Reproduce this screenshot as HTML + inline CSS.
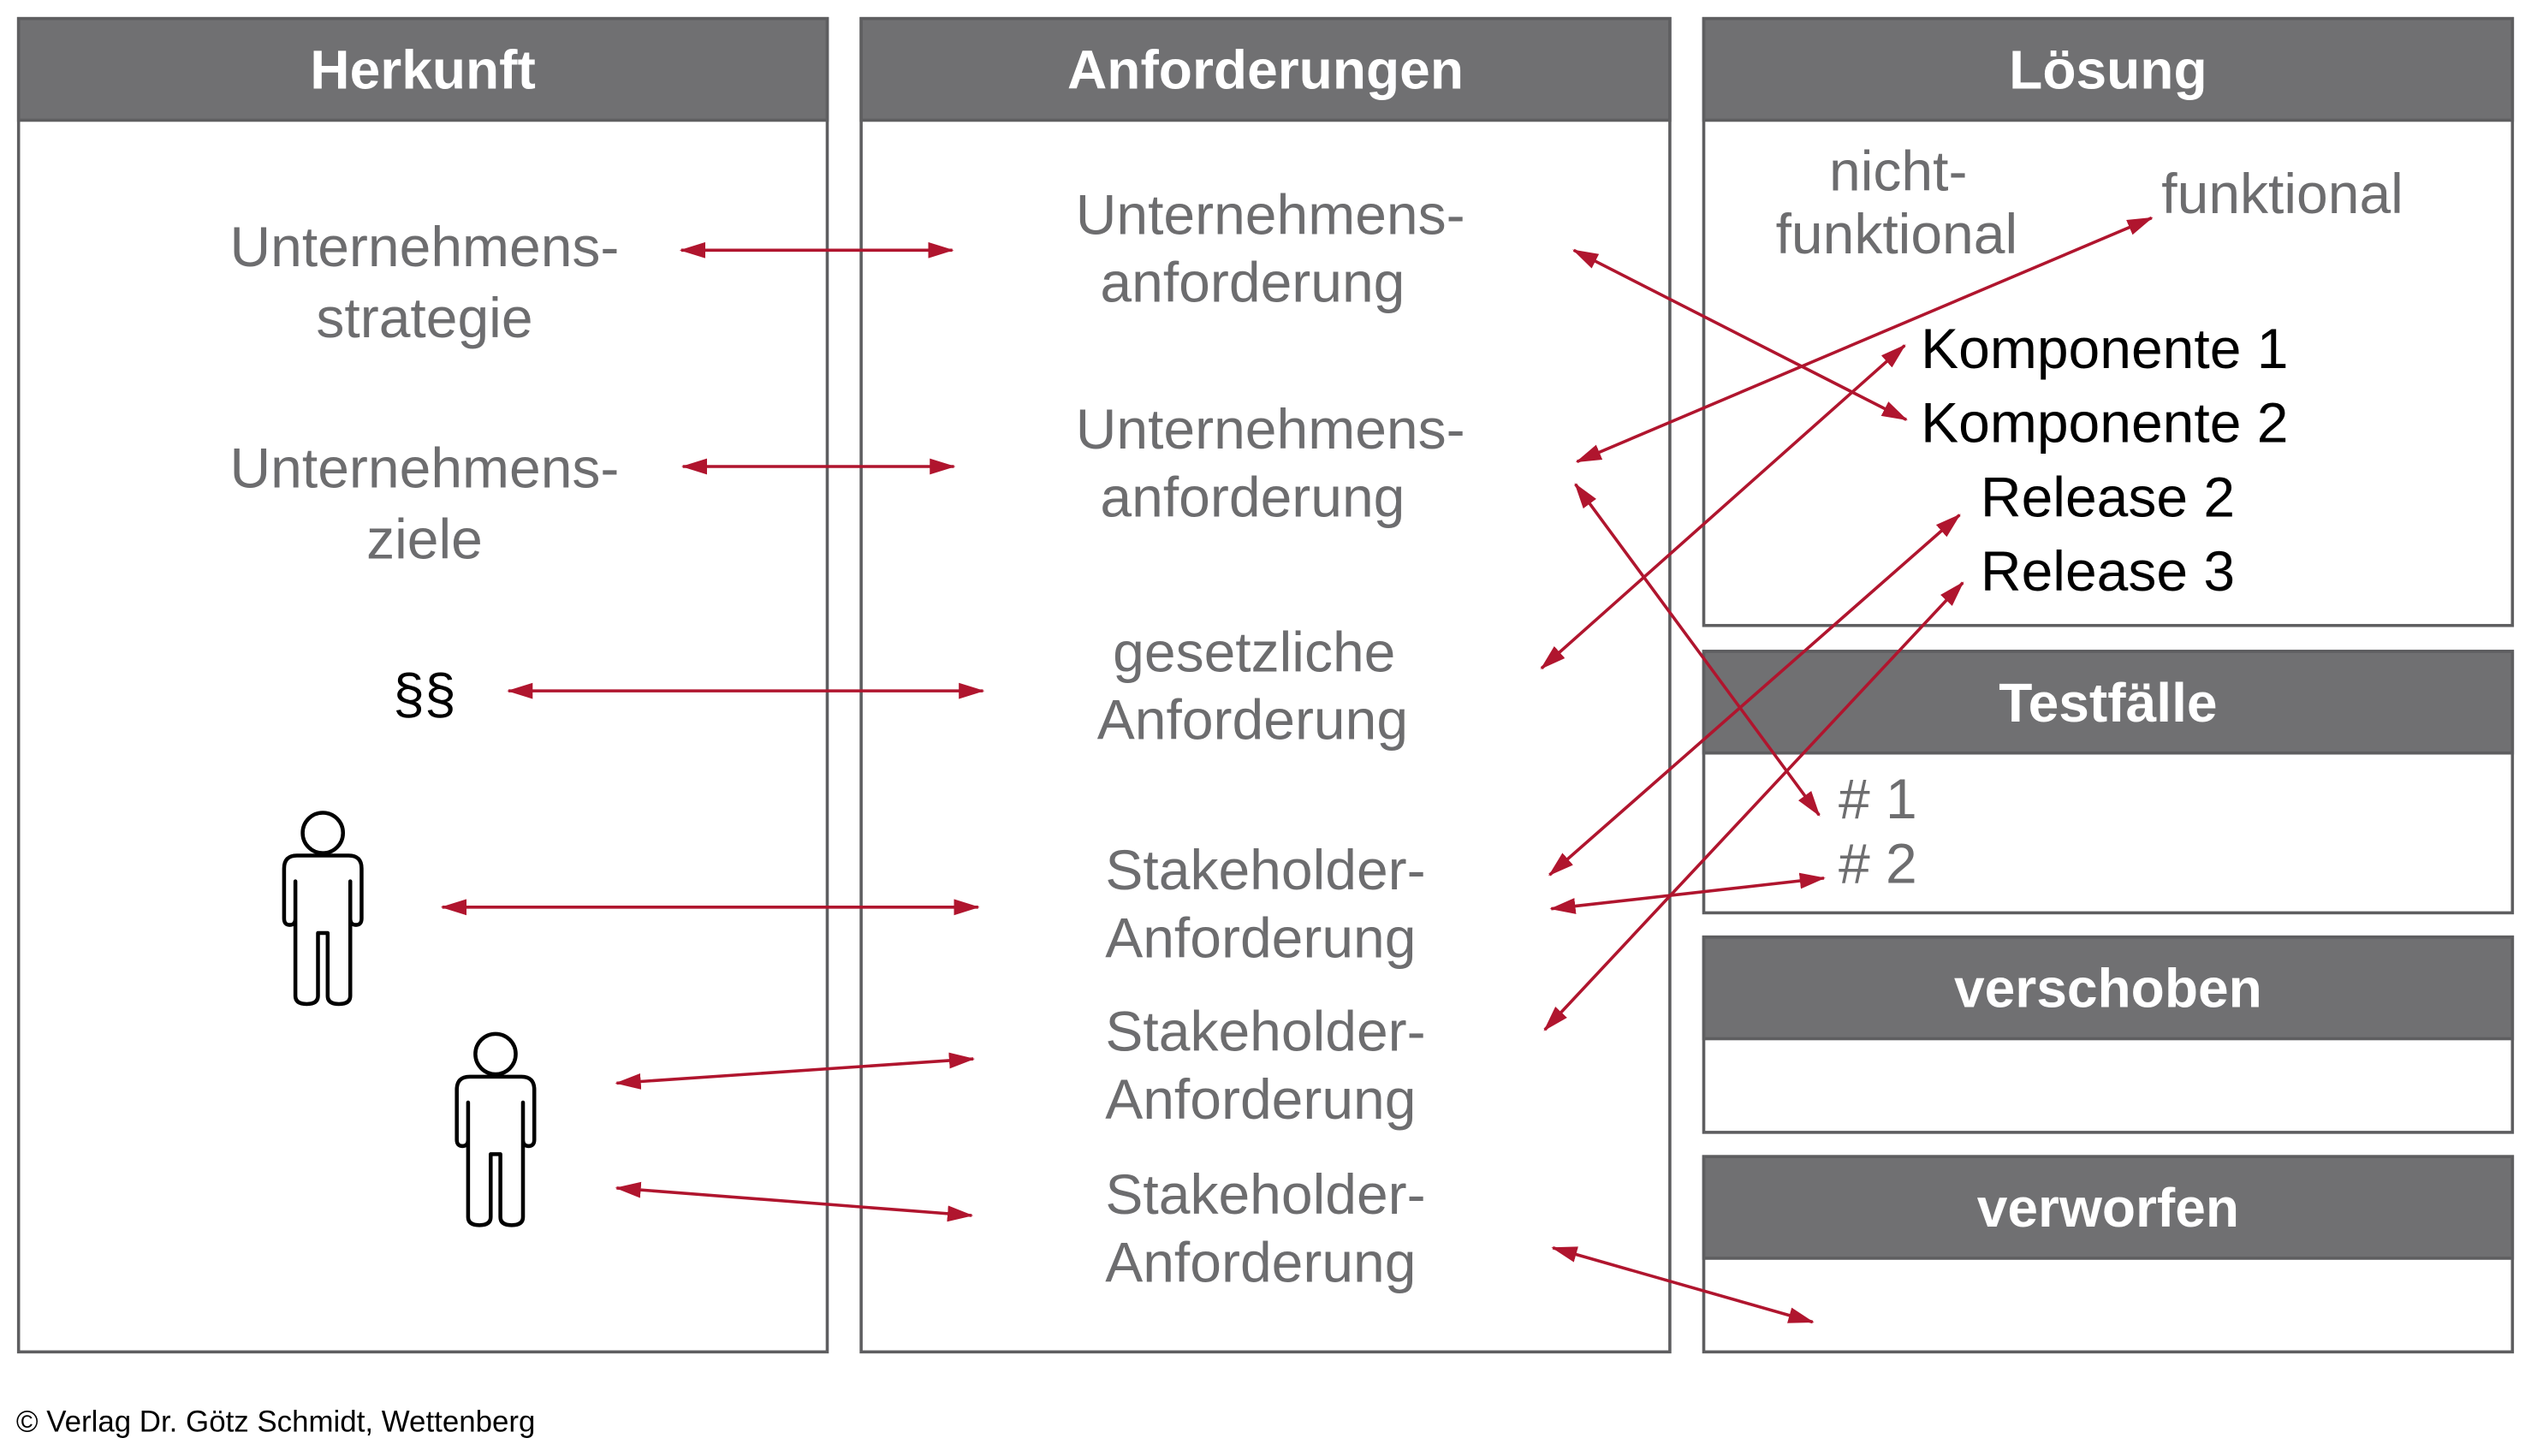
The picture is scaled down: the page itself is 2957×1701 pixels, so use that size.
<!DOCTYPE html>
<html><head><meta charset="utf-8"><style>
html,body{margin:0;padding:0;background:#fff;}
svg{display:block;}
text{font-family:"Liberation Sans",Arial,sans-serif;}
</style></head><body>
<svg width="2957" height="1701" viewBox="0 0 1568 902" preserveAspectRatio="none" xmlns="http://www.w3.org/2000/svg">
<defs>
<marker id="a" viewBox="0 0 16 10" refX="15" refY="5" markerWidth="16" markerHeight="10" markerUnits="userSpaceOnUse" orient="auto-start-reverse">
<path d="M0,0 L16,5 L0,10 Z" fill="#b0152e"/>
</marker>
</defs>
<g stroke="#5e5e60" stroke-width="1.9">
<rect x="11.5" y="11.5" width="501" height="826" fill="#fff"/>
<rect x="11.5" y="11.5" width="501" height="63" fill="#707072"/>
<rect x="533.5" y="11.5" width="501" height="826" fill="#fff"/>
<rect x="533.5" y="11.5" width="501" height="63" fill="#707072"/>
<rect x="1055.5" y="11.5" width="501" height="376" fill="#fff"/>
<rect x="1055.5" y="11.5" width="501" height="63" fill="#707072"/>
<rect x="1055.5" y="403.5" width="501" height="162" fill="#fff"/>
<rect x="1055.5" y="403.5" width="501" height="63" fill="#707072"/>
<rect x="1055.5" y="580.5" width="501" height="121" fill="#fff"/>
<rect x="1055.5" y="580.5" width="501" height="63" fill="#707072"/>
<rect x="1055.5" y="716.5" width="501" height="121" fill="#fff"/>
<rect x="1055.5" y="716.5" width="501" height="63" fill="#707072"/>
</g>
<g fill="#fff" font-weight="bold" font-size="34" text-anchor="middle">
<text x="262" y="55">Herkunft</text>
<text x="784" y="55">Anforderungen</text>
<text x="1306" y="55">Lösung</text>
<text x="1306" y="447">Testfälle</text>
<text x="1306" y="624">verschoben</text>
<text x="1306" y="760">verworfen</text>
</g>
<g fill="#6d6d6f" font-size="35" text-anchor="middle">
<text x="263" y="165">Unternehmens-</text>
<text x="263" y="209">strategie</text>
<text x="263" y="302">Unternehmens-</text>
<text x="263" y="346">ziele</text>
<text x="787" y="145">Unternehmens-</text>
<text x="776" y="187">anforderung</text>
<text x="787" y="278">Unternehmens-</text>
<text x="776" y="320">anforderung</text>
<text x="777" y="416">gesetzliche</text>
<text x="776" y="458">Anforderung</text>
<text x="784" y="551">Stakeholder-</text>
<text x="781" y="593">Anforderung</text>
<text x="784" y="651">Stakeholder-</text>
<text x="781" y="693">Anforderung</text>
<text x="784" y="752">Stakeholder-</text>
<text x="781" y="794">Anforderung</text>
<text x="1176" y="118">nicht-</text>
<text x="1175" y="157">funktional</text>
<text x="1414" y="132">funktional</text>
</g>
<g fill="#6d6d6f" font-size="35">
<text x="1139" y="507"># 1</text>
<text x="1139" y="547"># 2</text>
</g>
<g fill="#000" font-size="35">
<text x="1190" y="228">Komponente 1</text>
<text x="1190" y="274">Komponente 2</text>
<text x="1227" y="320">Release 2</text>
<text x="1227" y="366">Release 3</text>
<text x="263" y="442" text-anchor="middle">§§</text>
</g>
<text x="10" y="887" font-size="18.5" fill="#000">© Verlag Dr. Götz Schmidt, Wettenberg</text>
<g fill="#fff" stroke="#000" stroke-width="2.4" stroke-linejoin="round">
<circle cx="200" cy="516" r="12.5"/>
<path d="M184 530 H216 Q224 530 224 538 V569 Q224 573 220.5 573 Q217 573 217 569 V546 V617 Q217 622 210 622 Q203 622 203 617 V578 H197 V617 Q197 622 190 622 Q183 622 183 617 V546 V569 Q183 573 179.5 573 Q176 573 176 569 V538 Q176 530 184 530 Z"/>
<circle cx="307" cy="653" r="12.5"/>
<path d="M291 667 H323 Q331 667 331 675 V706 Q331 710 327.5 710 Q324 710 324 706 V683 V754 Q324 759 317 759 Q310 759 310 754 V715 H304 V754 Q304 759 297 759 Q290 759 290 754 V683 V706 Q290 710 286.5 710 Q283 710 283 706 V675 Q283 667 291 667 Z"/>
</g>
<g stroke="#b0152e" stroke-width="1.9" fill="none" marker-start="url(#a)" marker-end="url(#a)">
<line x1="422" y1="155" x2="590" y2="155"/>
<line x1="423" y1="289" x2="591" y2="289"/>
<line x1="315" y1="428" x2="609" y2="428"/>
<line x1="274" y1="562" x2="606" y2="562"/>
<line x1="382" y1="671" x2="603" y2="656"/>
<line x1="382" y1="736" x2="602" y2="753"/>
<line x1="975" y1="155" x2="1181" y2="260"/>
<line x1="977" y1="286" x2="1333" y2="135"/>
<line x1="976" y1="300" x2="1127" y2="505"/>
<line x1="955" y1="414" x2="1180" y2="214"/>
<line x1="960" y1="542" x2="1214" y2="319"/>
<line x1="961" y1="563" x2="1130" y2="544"/>
<line x1="957" y1="638" x2="1216" y2="361"/>
<line x1="962" y1="773" x2="1123" y2="819"/>
</g>
</svg>
</body></html>
